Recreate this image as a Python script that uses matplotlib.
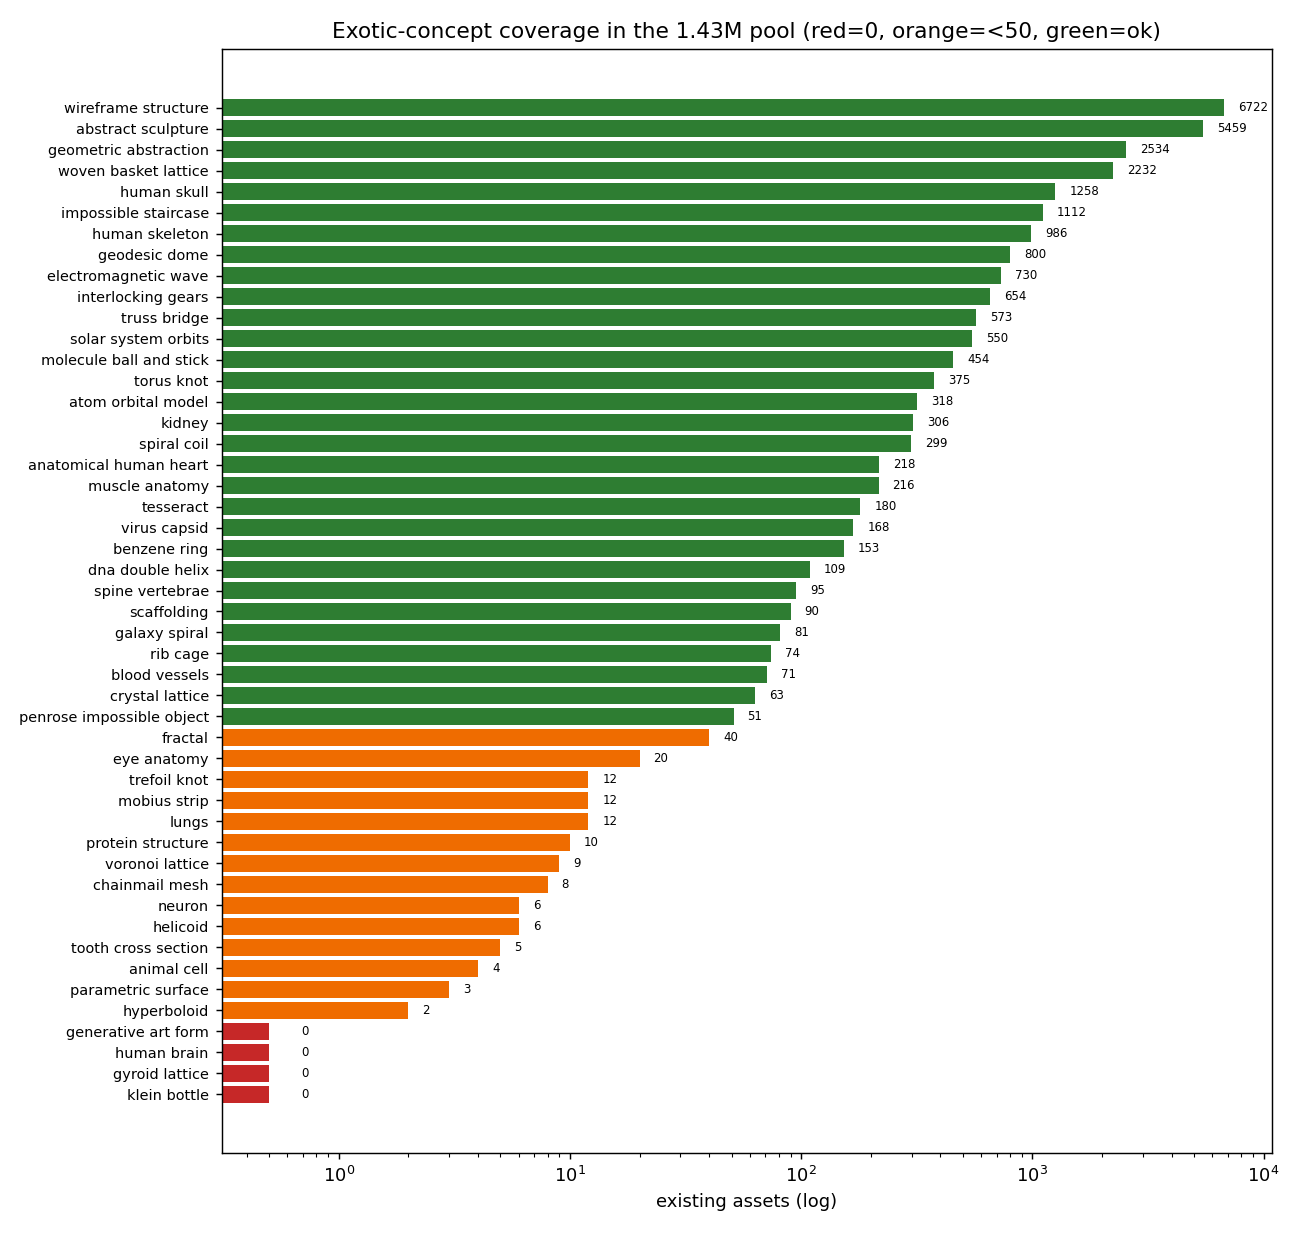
import matplotlib
matplotlib.use("Agg")
import matplotlib.pyplot as plt
import numpy as np

concepts = [
    "wireframe structure", "abstract sculpture", "geometric abstraction", "woven basket lattice",
    "human skull", "impossible staircase", "human skeleton", "geodesic dome",
    "electromagnetic wave", "interlocking gears", "truss bridge", "solar system orbits",
    "molecule ball and stick", "torus knot", "atom orbital model", "kidney",
    "spiral coil", "anatomical human heart", "muscle anatomy", "tesseract",
    "virus capsid", "benzene ring", "dna double helix", "spine vertebrae",
    "scaffolding", "galaxy spiral", "rib cage", "blood vessels",
    "crystal lattice", "penrose impossible object", "fractal", "eye anatomy",
    "trefoil knot", "mobius strip", "lungs", "protein structure",
    "voronoi lattice", "chainmail mesh", "neuron", "helicoid",
    "tooth cross section", "animal cell", "parametric surface", "hyperboloid",
    "generative art form", "human brain", "gyroid lattice", "klein bottle",
]
counts = [
    6722, 5459, 2534, 2232, 1258, 1112, 986, 800, 730, 654, 573, 550,
    454, 375, 318, 306, 299, 218, 216, 180, 168, 153, 109, 95,
    90, 81, 74, 71, 63, 51, 40, 20, 12, 12, 12, 10,
    9, 8, 6, 6, 5, 4, 3, 2, 0, 0, 0, 0,
]

def color_for(v):
    if v == 0:
        return "#c62828"
    if v < 50:
        return "#ef6c00"
    return "#2e7d32"

fig = plt.figure(figsize=(10, 9.5), dpi=130)
ax = fig.add_axes([221.5/1300, 1 - 1153/1235, (1271.5 - 221.5)/1300, (1153 - 49)/1235])

y = np.arange(len(concepts))
plot_vals = [v if v > 0 else 0.5 for v in counts]
ax.barh(y, plot_vals, color=[color_for(v) for v in counts], height=0.8)
ax.set_xscale("log")
ax.set_yticks(y)
ax.set_yticklabels(concepts, fontsize=8)
ax.invert_yaxis()
ax.set_ylim(len(concepts) - 1 + 0.4 + 2.39, -0.4 - 2.39)
ax.set_xlim(10 ** -0.507, 10 ** 4.034)

for yi, v in zip(y, counts):
    ax.text(max(v, 0.6) * 1.15, yi, str(v), va="center", ha="left", fontsize=6.5)

ax.set_xlabel("existing assets (log)", fontsize=10)
ax.set_title("Exotic-concept coverage in the 1.43M pool (red=0, orange=<50, green=ok)", fontsize=12)

fig.savefig("out.png", dpi=130)
